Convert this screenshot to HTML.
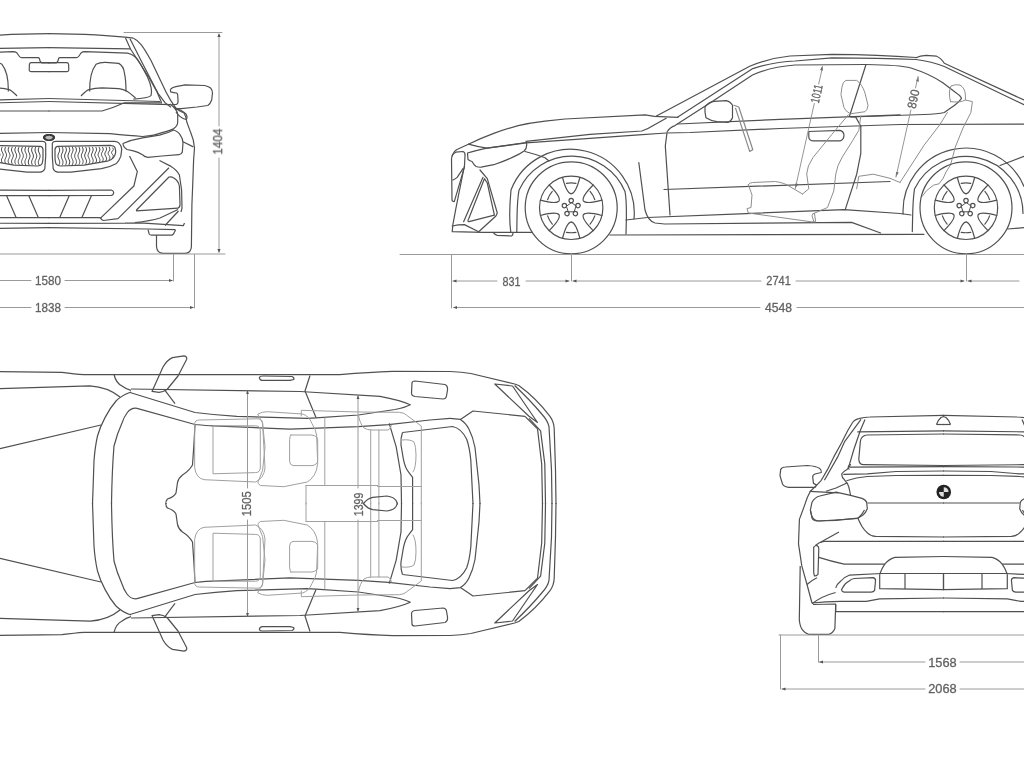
<!DOCTYPE html>
<html><head><meta charset="utf-8"><style>
html,body{margin:0;padding:0;background:#fff;width:1024px;height:768px;overflow:hidden}
svg{display:block}
</style></head><body>
<svg width="1024" height="768" viewBox="0 0 1024 768">
<rect width="1024" height="768" fill="#fff"/>
<g fill="none" stroke="#505050" stroke-width="1.2" stroke-linejoin="round" stroke-linecap="round">
<g id="fronthalf" stroke-linecap="butt">
  <!-- roof and pillar -->
  <path d="M48.5 33.6C85 33.8 115 35.8 133.4 38.2"/>
  <path d="M133.4 38.2C139 40.5 143 46 151 60.5L166 92Q170 100 176.8 109.7"/>
  <path d="M130 38.8L142.8 64L158 93.3L165 102.7L171 107.3"/>
  <path d="M125.5 38L130.5 49L148.7 77L157 92L161.6 102.7"/>
  <!-- windshield -->
  <path d="M48.5 47.6L130.5 48.8"/>
  <path d="M48.5 63L56 63Q58 62.5 58.6 58.5Q59 57.7 60 57.6L76.5 57.6Q78 57.5 79 56L81 53Q82.5 51.7 85 51.7L127.6 53.2Q136 55 140.5 64L147.5 76.9Q153 89 151 95.6Q148 98.2 133.4 99.1"/>
  <!-- rear view mirror -->
  <path d="M48.5 62.6H67Q68.5 62.8 68.6 64.5L68.8 70Q68.8 71.5 67 71.6H48.5"/>
  <!-- seat -->
  <path d="M89.7 91.5C89.5 82 90 72 96 64.3Q100 62.2 105.6 62.4L118.8 63.4Q123.5 66 124.4 72.8C126 80 126 86 126 91.5"/>
  <path d="M81 96C84 93 86 90.5 89 89.6Q95 88 102 87.8L118.8 88.7Q126 90 130 93.4L135.6 98"/>
  <!-- dashboard / hood -->
  <path d="M48.5 98.5L160 101.5"/>
  <path d="M48.5 101.5L171 104.6"/>
  <path d="M48.5 111L102 111Q113 108 124.4 102.8L162 102.8"/>
  <path d="M48.5 132.5L110 133.6Q130 135.5 142.5 136.5Q155 135.5 162 132.6Q170 130.5 173.8 128.6Q177.7 126 177.7 122.1V114.3Q177 109 170 103.9"/>
  <!-- body right -->
  <path d="M173.8 106.5Q178 110.5 184 113Q186 116 186.8 122L190.7 132.6Q194 140 194.5 148L193.6 160L192.7 185L191.9 205L191.4 246"/>
  <path d="M175 108Q182 110 186 114Q188 118 186 119.5Q180 118 176 112"/>
  <path d="M183 141.7L193.3 146.9"/>
  <!-- headlight -->
  <path d="M123 143.5Q132 139.5 142.5 137.8L159.5 135.2Q168 133 173.8 130Q179 132 180.3 135.2Q183 139 183 143L182.3 152Q181.5 154.5 179 154.7L162 156L147.8 157.3Q144 157 142.5 154.7Q138 152 133.4 150.8L127 149.5Q123 147 123 143.5Z"/>
  <!-- kidney grille right -->
  <path d="M52.3 143.2Q53 141.4 55.8 141.4L114.7 141.4Q118 141.8 119 143.2Q121.7 146 121.7 149.3L120.8 156.4Q119 161 116.5 163.4Q110 167 101.5 168.7L70.8 172.2L57.6 172.2Q54 171.5 53.2 168.7L52.3 156.4Z"/>
  <path d="M55 149.3Q55.5 146.5 57.6 146.3L110.3 145.4Q114 145.8 114.7 147.1Q115.8 149.5 115.6 152.8Q115 156 113 158.1Q111 160 108.5 160.8L84 165.1L60.2 166Q57 165.5 56.3 164.3Q55 162 55 156.4Z"/>
  <path d="M58.8 146.9 L59.2 147.9 L59.6 148.9 L59.7 150.0 L59.6 151.0 L59.2 152.0 L58.8 153.0 L58.3 154.0 L58.0 155.1 L57.9 156.1 L58.0 157.1 L58.3 158.1 L58.8 159.1 L59.2 160.2 L59.6 161.2 L59.7 162.2 L59.6 163.2 L59.2 164.2 L58.8 165.2M62.1 146.9 L62.6 147.9 L62.9 148.9 L63.0 150.0 L62.9 151.0 L62.6 152.0 L62.1 153.0 L61.7 154.1 L61.4 155.1 L61.2 156.1 L61.4 157.1 L61.7 158.2 L62.1 159.2 L62.6 160.2 L62.9 161.2 L63.0 162.2 L62.9 163.3 L62.6 164.3 L62.1 165.3M65.5 146.9 L66.0 147.9 L66.3 148.9 L66.4 149.9 L66.3 151.0 L65.9 152.0 L65.5 153.0 L65.0 154.0 L64.7 155.0 L64.6 156.0 L64.7 157.1 L65.0 158.1 L65.5 159.1 L66.0 160.1 L66.3 161.1 L66.4 162.1 L66.3 163.1 L66.0 164.2 L65.5 165.2M68.8 146.9 L69.3 147.9 L69.6 148.9 L69.8 149.9 L69.6 150.9 L69.3 151.9 L68.8 152.9 L68.4 154.0 L68.1 155.0 L67.9 156.0 L68.1 157.0 L68.4 158.0 L68.8 159.0 L69.3 160.0 L69.6 161.0 L69.8 162.0 L69.6 163.0 L69.3 164.0 L68.8 165.0M72.2 146.9 L72.7 148.0 L73.0 149.0 L73.1 150.1 L72.9 151.1 L72.5 152.2 L72.0 153.2 L71.6 154.3 L71.3 155.4 L71.3 156.4 L71.6 157.5 L72.0 158.5 L72.5 159.6 L72.9 160.7 L73.1 161.7 L73.0 162.8 L72.7 163.8 L72.2 164.9M75.5 146.9 L76.0 148.0 L76.4 149.0 L76.4 150.1 L76.3 151.1 L75.9 152.2 L75.4 153.2 L74.9 154.3 L74.7 155.3 L74.7 156.4 L74.9 157.4 L75.4 158.5 L75.9 159.5 L76.3 160.6 L76.4 161.6 L76.4 162.7 L76.0 163.7 L75.5 164.8M78.9 146.9 L79.4 147.9 L79.7 149.0 L79.8 150.0 L79.6 151.1 L79.2 152.1 L78.7 153.2 L78.3 154.2 L78.0 155.2 L78.0 156.3 L78.3 157.3 L78.7 158.4 L79.2 159.4 L79.6 160.4 L79.8 161.5 L79.7 162.5 L79.4 163.6 L78.9 164.6M82.2 146.9 L82.7 147.9 L83.1 149.0 L83.1 150.0 L83.0 151.0 L82.6 152.1 L82.1 153.1 L81.6 154.1 L81.4 155.2 L81.4 156.2 L81.6 157.2 L82.1 158.3 L82.6 159.3 L83.0 160.3 L83.1 161.4 L83.1 162.4 L82.7 163.4 L82.2 164.5M85.6 146.9 L86.1 147.9 L86.4 148.9 L86.5 150.0 L86.3 151.0 L85.9 152.0 L85.4 153.0 L85.0 154.0 L84.7 155.0 L84.7 156.1 L85.0 157.1 L85.4 158.1 L85.9 159.1 L86.3 160.1 L86.5 161.1 L86.4 162.2 L86.1 163.2 L85.6 164.2M88.9 146.9 L89.5 148.0 L89.8 149.0 L89.8 150.1 L89.6 151.1 L89.1 152.2 L88.6 153.2 L88.2 154.3 L88.0 155.3 L88.2 156.4 L88.6 157.5 L89.1 158.5 L89.6 159.6 L89.8 160.6 L89.8 161.7 L89.5 162.7 L88.9 163.8M92.3 146.9 L92.8 147.9 L93.1 149.0 L93.2 150.0 L92.9 151.0 L92.5 152.0 L92.0 153.1 L91.6 154.1 L91.4 155.1 L91.6 156.2 L92.0 157.2 L92.5 158.2 L92.9 159.2 L93.2 160.3 L93.1 161.3 L92.8 162.3 L92.3 163.4M95.6 146.9 L96.2 147.9 L96.5 148.9 L96.5 149.9 L96.3 150.9 L95.8 151.9 L95.3 152.9 L94.9 153.9 L94.7 154.9 L94.9 155.9 L95.3 156.9 L95.8 157.9 L96.3 158.9 L96.5 159.9 L96.5 160.9 L96.2 161.9 L95.6 162.9M99.0 146.9 L99.5 147.9 L99.9 149.0 L99.9 150.0 L99.5 151.1 L99.0 152.1 L98.5 153.2 L98.1 154.2 L98.1 155.2 L98.5 156.3 L99.0 157.3 L99.5 158.4 L99.9 159.4 L99.9 160.4 L99.5 161.5 L99.0 162.5M102.3 146.9 L102.9 148.0 L103.2 149.0 L103.2 150.1 L102.7 151.2 L102.1 152.2 L101.6 153.3 L101.4 154.3 L101.6 155.4 L102.1 156.5 L102.7 157.5 L103.2 158.6 L103.2 159.7 L102.9 160.7 L102.3 161.8M105.7 146.9 L106.3 147.9 L106.6 148.9 L106.5 149.9 L106.1 150.9 L105.5 151.9 L105.0 152.9 L104.8 153.9 L105.0 154.9 L105.5 155.9 L106.1 156.9 L106.5 157.9 L106.6 158.9 L106.3 159.9 L105.7 160.9M109.0 146.9 L109.7 148.0 L109.9 149.1 L109.7 150.1 L109.0 151.2 L108.4 152.3 L108.1 153.4 L108.4 154.5 L109.0 155.5 L109.7 156.6 L109.9 157.7 L109.7 158.8 L109.0 159.9M112.4 147.6 L113.1 148.6 L113.3 149.6 L112.7 150.7 L111.9 151.7 L111.5 152.7 L111.9 153.7 L112.7 154.7 L113.3 155.7 L113.1 156.8 L112.4 157.8" stroke="#484848" stroke-width="1"/>
  <!-- bmw logo -->
  <ellipse cx="49" cy="137.5" rx="6" ry="3.4" fill="#3a3a3a" stroke="none"/><ellipse cx="49" cy="137.6" rx="3.6" ry="1.8" fill="#bbb" stroke="none"/>
  <!-- lower intake / bumper -->
  <path d="M129.5 156L137.3 171.6L133.9 186L100 218.6"/>
  <path d="M48.5 190.3L111.2 190Q113.5 190.5 113.7 192.5Q113.5 195.3 111 195.5L48.5 195.7"/>
  <path d="M48.5 217.6H100.5M69.2 195.7L59.7 217.6M91.4 195.7L81.9 217.6"/>
  <path d="M100.5 217.6Q101 220 103.4 220.5L118 218.6L169 167.8"/>
  <path d="M159.5 160.5L171 166.4Q177 170 179.4 175L181.6 190L182 208.2L181 212"/>
  <path d="M136.5 210L169 177Q171.5 176.5 174.2 178.2Q178.5 181 179.4 186L180 204.3Q180 207.5 178 208.2L136.5 210.8Z"/>
  <path d="M135 222.5Q150 221 160 218L178 209.5M165 225.5L178.5 211"/>
  <path d="M48.5 223.4L125 223.2Q135 222.8 140 222.8L183.3 225.7L184.5 223"/>
  <path d="M48.5 227.7L148 229L175.5 229.7"/>
  <path d="M148 229.7L149.2 234Q150 235.1 151.5 235.1H172Q173.5 234.5 174 233L175.5 229.9"/>
  <!-- tire -->
  <path d="M156.5 235V246.5Q157 253.3 163.3 253.3H185Q191.2 253.3 191.5 246"/>
  <!-- side mirror -->
  <path d="M170.3 89.5Q172 87.5 175.8 86.7L185.2 84.8L204.7 85.5Q209 86.5 210.9 88.3Q212.5 90.5 212.5 93L211.7 100Q210.5 103.5 207.8 105.5L196.9 107L181.3 108.6L175 108.6"/>
  <path d="M170.3 89.5L170.7 91.8Q174 92.5 176.6 93Q177.8 94 177.7 95.3L178.1 101.6Q177.8 103.8 176.6 104.3L171.5 104.5"/>
</g>
<use href="#fronthalf" transform="translate(98,0) scale(-1,1)"/>

<defs><g id="wheel">
<circle r="46"/>
<circle r="31.7"/>
<path d="M-8.7 -30.5C-5.7 -18.8 -3.1 -14.4 0.0 -14.0C3.1 -14.4 5.7 -18.8 8.7 -30.5 M-4.8 -24.5A25.0 25.0 0 0 1 4.8 -24.5 M22.0 -22.8C13.5 -14.3 10.9 -9.8 12.1 -7.0C14.0 -4.5 19.1 -4.5 30.8 -7.7 M18.9 -16.4A25.0 25.0 0 0 1 23.6 -8.1 M30.8 7.7C19.1 4.5 14.0 4.5 12.1 7.0C10.9 9.8 13.5 14.3 22.0 22.8 M23.6 8.1A25.0 25.0 0 0 1 18.9 16.4 M8.7 30.5C5.7 18.8 3.1 14.4 0.0 14.0C-3.1 14.4 -5.7 18.8 -8.7 30.5 M4.8 24.5A25.0 25.0 0 0 1 -4.8 24.5 M-22.0 22.8C-13.5 14.3 -10.9 9.8 -12.1 7.0C-14.0 4.5 -19.1 4.5 -30.8 7.7 M-18.9 16.4A25.0 25.0 0 0 1 -23.6 8.1 M-30.8 -7.7C-19.1 -4.5 -14.0 -4.5 -12.1 -7.0C-10.9 -9.8 -13.5 -14.3 -22.0 -22.8 M-23.6 -8.1A25.0 25.0 0 0 1 -18.9 -16.4"/>
<circle cx="0.0" cy="-7.2" r="2.2"/><circle cx="-6.8" cy="-2.2" r="2.2"/><circle cx="-4.2" cy="5.8" r="2.2"/><circle cx="4.2" cy="5.8" r="2.2"/><circle cx="6.8" cy="-2.2" r="2.2"/>
<path d="M0.0 -5.0 L-4.8 -1.5 L-2.9 4.0 L2.9 4.0 L4.8 -1.5Z" stroke-width="1"/>
</g></defs><g id="side">
  <!-- roof -->
  <path d="M656 116.3L749.7 66.3Q770 58 790 56L832 54.3Q880 54.6 916 57.5"/>
  <path d="M916 57.8Q920 55.5 926 55.4L936.5 56.2Q941 58 944.3 63.3L1024 100"/>
  <path d="M677.8 117L752.8 68.6Q775 61.5 795 61L832 57.8Q880 58 916 59.5Q932 61.5 944.3 66.5L1024 104.7"/>
  <!-- window outline -->
  <path d="M667 132Q670 127 675 125.6L713.8 100.6L752.5 75Q770 67 795 65L866 64.5Q900 65 911 68Q930 74 942.8 82.8L955.3 92.2Q961 96 961.5 98.4Q959 102 955.3 104.7L944.3 112.5Q938 114 924 114.5L851 117"/>
  <path d="M677.8 124L780 119.4L900 114.8"/>
  <path d="M866 64.5L849.4 116.5"/>
  <!-- belt / hood -->
  <path d="M452 156Q454 151 457 149.5L468.4 144.2Q480 138.5 493.8 133.4Q506 128.8 518.2 125.6Q530 123 545 121.2L565 119L645 114.8L654.5 116.3L678 117.3"/>
  <path d="M468.4 144.2Q478 147 487 148.1L526 142.9L590 138.3L638.8 134.9L666.2 133L690 132.5L780 128.5L900 124.5L1024 124.2"/>
  <path d="M526 141.4L590 134.4L641.8 131Q648 129 655 124.5L666.2 118.3"/>
  <!-- headlight -->
  <path d="M467.5 153L468 159.5Q470 161 472 161.5Q474 165 476 166.5Q479 167.5 481 167.2L493.8 164.7Q505 161 513.4 156.9Q520 154 524.1 151Q527.5 148 526.5 142.5L487 148.1Q475 150.5 467.5 153Z"/>
  <!-- front grille side -->
  <path d="M451.5 158.7Q452 154 455.8 152.2L463 151.5Q465.5 152.5 465 155.8L464.4 167.2L454.3 201.6Q452 201.5 452 200L451.5 158.7Z"/>
  <path d="M452.9 180Q456 178.5 457.2 177.3L463 168.7"/>
  <path d="M464.4 166L455.8 208.8L452.9 224.6L452.2 231.7L483 232.3L532 232.3"/>
  <path d="M452.2 226Q458 224.6 464.4 224.6L478.7 231.7L495.9 216L497.3 213L487.3 178.7L480 170"/>
  <path d="M484.4 178.7L468.7 218.8Q467 221.5 469 221.7L494.4 215.2L487.3 183Z"/>
  <path d="M483 177.3L463.6 221.7"/>
  <path d="M493 232.4Q495 235 497.3 235.3L511.6 236Q513 235 513 233.2"/>
  <path d="M525 151.5Q535 154 545 157.8L549 161"/>
  <!-- front arches -->
  <path d="M510.8 232.3C509.3 222 509.3 208 511 190A63.8 63.8 0 0 1 634 219"/>
  <path d="M516.8 232.3L517 218C517.2 206 517.8 197 519 190.2A57.8 57.8 0 0 1 625 191.5C626.3 198 626.5 208 626.4 218L626 234"/>
  <!-- door & sills -->
  <path d="M666.9 133.6L665.3 146L670 215"/>
  <path d="M638.8 162.5L645 210Q648 221 655 223L664.5 224L851.6 222.4L880.6 233"/>
  <path d="M610 235L924 234.3"/>
  <path d="M626 220L647.5 217.5L740 213.8L844 209.6L900 213.5L911 215"/>
  <path d="M664 189.5L890 181.5"/>
  <path d="M860.8 126.3V153.3L856.7 174.2L845.2 209.6"/>
  <path d="M849.4 116.5Q853 116.5 855.6 116.9L860.8 126.3"/>
  <!-- door handle -->
  <path d="M808.8 131.5L840 130.4Q844 131.5 844 135.6Q843.5 140 840 140.8L813 140.8Q808.8 140.5 808.8 136.7Z"/>
  <!-- mirror -->
  <path d="M705 107Q708 102.5 713.8 101.4L726.3 100.6Q731 102 732.5 105.3V117.8Q731 121.5 727.8 122.5L716.9 121.7Q710 120.5 706 117.8Q704.5 112 705 107Z"/>
  <path d="M734 105.3L738.8 107L752.8 149.8L749.7 151.4L735.6 108.4" stroke="#888"/>
  <!-- rear arches -->
  <path d="M903.1 214A63 63 0 0 1 1024 186.4"/>
  <path d="M912.3 231.6L912.6 218C912.8 206 913.3 197 914.5 189A57 57 0 0 1 1023 213.4"/>
  <path d="M1000 165.5L1024 156.4"/>
  <path d="M1007.8 229L1024 227.7"/>
</g>
<g stroke="#8e8e8e" stroke-width="1" id="sideseats">
  <path d="M842 86.7Q843 81 846 80.4L856.7 80.4Q862 84 865 93L868 105.4Q867.5 110 865 111.7L850.4 113.8Q845 111 844 107.5L841 95Z"/>
  <path d="M848.3 114.8L831.7 134.6L813 157.5Q807 166 806.7 174L808.8 188.8L802.5 194"/>
  <path d="M860.8 115.8L858.8 130.4L852.5 140.8L842 157.5Q837 166 835.8 174L833.8 190.8L827.5 207.5L813 213.8"/>
  <path d="M748.3 184.6Q750 182.5 752.5 182.5L775.4 181.5Q785 183 790 186.7L802.5 194"/>
  <path d="M748.3 184.6L752 195L751 207.5L747 208.6L748.3 213L811.3 221.8L815.7 221.8L814.5 213.5"/>
  <path d="M813 213.8L812 215.8L814 222"/>
  <path d="M856.7 188.8L858.8 176.3L873.3 174.2L890 178.3L900 182.5"/>
  <path d="M950.5 101.6Q948 92 951 86Q955 84 960 85Q965 88 965.4 95L965.4 100Q960 103 950.5 101.6Z"/>
  <path d="M965.4 100L972.4 101.6L970.9 112.5L963 128L955.3 147L950.5 165L946 172L943.3 178L939 183.8L933.4 185.2L926.4 190.8L922.2 196.4"/>
  <path d="M947.4 112.5L939.6 125L924 145.3L900 182.5"/>
</g>
<use href="#wheel" x="571.2" y="207.8"/>
<use href="#wheel" x="966" y="207.8"/>
<g fill="#555" stroke="none"><path d="M822.5 65.5l-2.3 4.6 2.7 0.6z"/><path d="M795.2 188.5l0.2 -5.1 2.7 0.6z"/><path d="M918.3 76.5l-2.2 4.6 2.7 0.6z"/><path d="M895.8 177l0.2 -5.1 2.7 0.6z"/></g>
<g stroke="#8a8a8a" stroke-width="0.9">
  <path d="M822.3 68L818.7 84M814.3 103.5L795.2 188.8"/>
  <path d="M918 76.6L915.5 88M910.9 110L896 177"/>
</g>

<g id="tophalf" stroke-linecap="butt">
  <!-- outer outline -->
  <path d="M0 371.7L62 372.3Q75 374 84 374.6L340 374.6Q370 372 392.5 371.3L450 371.5Q462 372 470.8 373.5L514.6 384L518.8 385.5Q536 398 550 416.3Q554 422 554.2 428.8L555.5 470L556 504"/>
  <path d="M514.6 385.5Q530 400 541.7 414Q548 421 549 426.7L551.5 470L552 504"/>
  <path d="M494.8 384L512.5 386L537.5 422.5L529 416.3L498 387Z"/>
  <path d="M525 416.3L537.5 428.8L541.7 464L542.5 504"/>
  <path d="M529 418.3L540.6 430.8L544.8 464L545.5 504"/>
  <!-- trunk / rear window -->
  <path d="M460.4 419.4L473 411L525 416.3"/>
  <path d="M450 418.3L460.4 419.4Q466 423 468.8 428.8Q473 437 475 447.5L479 485L480 504"/>
  <path d="M402.5 432.5L452.5 426.5Q461 428 466.7 439.2Q469.5 447 470.8 460L473 504"/>
  <path d="M402.5 432.5Q400.5 438 401 445L403.3 458.6Q405 468 409 472.6L412.6 477.3V504"/>
  <path d="M389.2 423.4L396.2 446.9L401 475L401.5 504"/>
  <!-- roof rail spear -->
  <path d="M131 389L300 391.5L380 396.3Q400 400 410.3 404.7Q405 407.5 395 409.5L358.4 415L316 417.8L307.2 418.3L236.9 416.4Q215 415 195 412.5L130 392.5"/>
  <path d="M137 408.3L195 424.5Q210 426 213.4 425.8L290 429.2L358.4 426.7L388.5 424.6L430 420L450 418.3"/>
  <path d="M114 374.5Q116 383 122 386Q126 389 131 390.4"/>
  <path d="M0 388.6L90 385.8Q108 387 120 397"/>
  <path d="M0 448.6L101 425"/>
  <!-- windshield -->
  <path d="M131 392Q122 395 116 401Q110 408 105 417.6Q100 427 97.5 436Q95 447 94 461L92.5 504"/>
  <path d="M137 408.3Q131 407.5 127 413Q124 417 122 423Q117 434 114 446Q112 470 111.5 504"/>
  <path d="M195 424.5Q194 445 192.5 465Q189 471 182.5 475Q178.5 478 177.5 482.5L176 493Q174 497 167.5 499Q165.5 501 166 504"/>
  <!-- mirror -->
  <path d="M152 391.4L163 367Q167 360 172.5 357.6L184 355.8Q187.5 356.5 186.6 359.5L178 376L167 389.5Q163 392 159 392.3Z"/>
  <path d="M165 390.4L175 403.6"/>
  <!-- b-pillar, door handle -->
  <path d="M310 375.5L305 391L316 417.5"/>
  <path d="M259.4 377.2Q260 376 263 376L292 376.5Q294.5 377.5 293.8 379.5L290 380.4L262 380.4Q259.4 380 259.4 377.2Z"/>
  <!-- tail light -->
  <path d="M412 383Q412 381 415 381L445 384.5Q448 386 447.5 390L446.5 396Q446 399 443 399L415 396.5Q411.5 396 411.5 393Z"/>
</g>
<g id="topseats" stroke="#a0a0a0" stroke-width="1">
  <path d="M194.7 423.4Q195 420 199.4 420L258 418.8Q262.6 419 262.6 423.4L265 468Q264 478 255.6 482L204 479.7Q196 478 194.7 468Z"/>
  <path d="M213.4 425.8L255.6 425.8Q260.3 426 260.3 430.5V468Q260 472.5 255.6 472.6L213.4 473.8Z"/>
  <path d="M258 414Q262 411.7 267.3 411.7L302.5 414Q309 416 311.9 423.4Q316 430 316.6 435L317.7 463.3Q317 471 314.2 475Q311 480 307.2 482L283.8 486.7L260.3 485.5Q257 483 258 482L262.6 470.3L265 446.9L262.6 423.4Z"/>
  <path d="M290.8 435H311.9Q317.7 436 317.7 439.8V461Q317 465 311.9 465.6H293Q289.6 465 289.6 461V439.8Q290 435.5 290.8 435Z"/>
  <path d="M301.3 416V410.3L358.4 412L399.4 412.3Q405 413 406.3 415L421.3 426V504M324.8 418V485.5M370.7 430V504M378.9 430V504M306 485.5H377.5M377.5 486.5H421M306 485.5V504"/>
  <path d="M358.4 415Q360 424 364 428Q367 430 372 430L388 430Q391 429 391.5 425"/>
  <path d="M402 440Q410 439 414 442Q416 446 416 455Q416 468 413 472"/>
</g>
<g id="topdrop">
<path d="M363.4 503.5Q368 498 372.8 497.3L386.9 496Q394 497 396.2 500.8Q397.4 503.5 397.4 504"/>
</g>
<use href="#tophalf" transform="translate(0,1007) scale(1,-1)"/>
<use href="#topseats" transform="translate(0,1007) scale(1,-1)"/>
<use href="#topdrop" transform="translate(0,1007) scale(1,-1)"/>

<defs><clipPath id="rclip"><rect x="0" y="0" width="1024" height="768"/></clipPath></defs>
<g id="rearhalf" stroke-linecap="butt">
  <!-- roof and pillars -->
  <path d="M858.8 418.6Q864 417 869.8 417L944 415.3"/>
  <path d="M858.8 418.6Q854 420 852.6 422.5L847.9 430.3L841.6 442.8L833.8 456.9L827.6 469.4L821.3 480.3Q815 487 810.4 491.3L807.3 497.5L804 506.9L799.4 519.4L798.5 543.9L801.8 565.9L807 584.5L812 603"/>
  <path d="M861 419.4L844.8 441.3L837.7 456.9L824.4 480.3"/>
  <path d="M865 419.4L860.4 430.3L854 449L849.4 464.7Q847 468 849.4 469.4"/>
  <path d="M857.3 431.9L944 430.8"/>
  <path d="M866.6 435L944 434"/>
  <path d="M866.6 435Q861 436 860.4 441.3L858.8 459Q859 464.7 863.5 464.7L944 465.5"/>
  <path d="M936.5 424.5Q938 420 941 417.5Q943.5 416.5 944 416.5"/>
  <path d="M936.5 424.5H944"/>
  <!-- trunk -->
  <path d="M849.5 467.1L944 466.6"/>
  <path d="M843.3 474.4Q855 474 867.3 473.9L896 471.5L944 471"/>
  <path d="M846.4 480.7Q856 477.5 867.3 476.5L896 475.5L944 475.3"/>
  <path d="M850.6 464Q850 467 847 469.5Q842 472.5 841.7 474.4Q842 478 844.3 479.6L847.5 483.8Q849 487 849.5 490L850.6 495.3"/>
  <path d="M857.9 518.2Q860 523 862 526.5Q864.5 530.5 867.3 532.8Q870.5 536 875.6 536.4L944 537"/>
  <path d="M826 491.3L836 488L847.5 482.8"/>
  <path d="M809.6 491.3L838.5 492.8"/>
  <path d="M867.4 503H944"/>
  <!-- tail light -->
  <path d="M812 502.2Q815 497 819.8 496L836 492.1L850.6 495.3L862 498.4Q866 500 866.7 502.5L867.3 508.8Q866 512.5 863 515L857.9 518.2L836 520.3L816.6 521Q812.5 520 812 517.8L810.4 510Z"/>
  <path d="M810.3 510L812 516.8Q814 520.5 818.8 521L857.7 518.5Q862 515 864.5 510"/>
    <!-- mirror -->
  <path d="M780.7 469.4Q782 467 785.4 467L807.3 465.5Q816 466 819.8 468.6Q822 470.5 821.3 472.5L815 474Q812.5 475 812.7 477.2L813.5 483.4L816.6 485L815 487.3L788.5 487.3Q783 486.5 782.3 483.4L780 475.6Z"/>
  <!-- lower body -->
  <path d="M815.4 545.5Q819 542 823.9 541.3L944 541.3"/>
  <path d="M820.5 542.2L839 532"/>
  <path d="M813.7 547.2Q815 545.5 817 545.5Q819 546.5 818.8 549L818 574.3Q816.5 576 814.5 576L813.7 572.6Z"/>
  <path d="M818.8 557.4Q830 561 844.2 564.2L884.8 564.2"/>
  <path d="M807 584.5Q812 580 817 577.7"/>
  <path d="M835.7 587.9Q837 584 840.8 581Q844 577 849.2 575.2L881.4 573.5L944 573.5"/>
  <path d="M842.5 587.9Q845 583 849.2 581Q851 579 854.3 578.5L873 577.7Q876 578.5 875.5 581L874.6 590.4Q873.5 592 871.2 592.1H844.2Q841.5 591.5 841.6 589.6Z"/>
  <path d="M812 603.8Q822 596 835.6 592.5"/>
  <path d="M812 603Q825 601.5 840.8 601.4L866.2 601.4L879.7 598.9L944 598"/>
  <path d="M813 604.5L835.7 604V611.6H944"/>
  <!-- diffuser -->
  <path d="M879.7 574.3Q882 568 884.8 564.2Q889 559 895 557.4L944 556.5"/>
  <path d="M879.7 574.3V588.7L944 589.6"/>
  <path d="M905 574V589M943.5 574V590"/>
  <!-- tire -->
  <path d="M800.2 565.9L799.3 620Q800 627 802.7 630.2Q805 633.5 808.6 634.4H828.9Q833 633 834.9 628.5L835.7 604.8"/>
</g>
<use href="#rearhalf" transform="translate(1887,0) scale(-1,1)"/>
<g id="rearlogo">
  <circle cx="943.75" cy="492" r="7.3" fill="#222" stroke="none"/>
  <path d="M943.75 492V487.2A4.8 4.8 0 0 1 948.55 492ZM943.75 492V496.8A4.8 4.8 0 0 1 938.95 492Z" fill="#ddd" stroke="none"/>
</g>

<g id="dims" stroke="#9a9a9a" stroke-width="1" fill="none">
  <!-- front view dims -->
  <path d="M0 254H225"/>
  <path d="M124 32.5H222"/>
  <path d="M219 35V126M219 158V252"/>
  <path d="M0 280.5H31M65 280.5H172"/>
  <path d="M173.5 254.5V281"/>
  <path d="M0 307.5H31M65 307.5H193"/>
  <path d="M194.5 254.5V308"/>
  <!-- side view dims -->
  <path d="M400 254.5H1024"/>
  <path d="M451.5 255V308"/>
  <path d="M571.5 254V281"/>
  <path d="M966.5 254V281"/>
  <path d="M453 281H497M526 281H569M573 281H761M796 281H964M968 281H1019"/>
  <path d="M454 307.5H760M797 307.5H1024"/>
  <!-- top view dims -->
  <path d="M247.5 391V488M247.5 520V616"/>
  <path d="M358 396V488M358 520V611"/>
  <!-- rear view dims -->
  <path d="M779 635H1024"/>
  <path d="M780.5 635V689"/>
  <path d="M818.5 635V662"/>
  <path d="M819 662H925M960 662H1024"/>
  <path d="M782 689H925M960 689H1024"/>
</g>
<g id="arrows" fill="#555" stroke="none">
  <path d="M219 33l-1.6 4h3.2z"/>
  <path d="M219 253l-1.6 -4h3.2z"/>
  <path d="M173 280.5l-4 -1.4v2.8z"/>
  <path d="M194 307.5l-4 -1.4v2.8z"/>
  <path d="M452.5 281l4 -1.4v2.8z"/>
  <path d="M569.5 281l-4 -1.4v2.8z"/>
  <path d="M572.5 281l4 -1.4v2.8z"/>
  <path d="M964.5 281l-4 -1.4v2.8z"/>
  <path d="M967.5 281l4 -1.4v2.8z"/>
  <path d="M453 307.5l4 -1.4v2.8z"/>
  <path d="M247.5 390l-1.4 4h2.8z"/>
  <path d="M247.5 617l-1.4 -4h2.8z"/>
  <path d="M358 395l-1.4 4h2.8z"/>
  <path d="M358 612l-1.4 -4h2.8z"/>
  <path d="M819 662l4 -1.4v2.8z"/>
  <path d="M781.5 689l4 -1.4v2.8z"/>
</g>
<g id="labels" stroke="#666" stroke-width="0.3" fill="#5e5e5e" font-family="Liberation Sans, sans-serif" font-size="12.4" text-anchor="middle" style="filter:grayscale(1)">
  <text transform="translate(48.1,280.3)" y="4.45" textLength="26" lengthAdjust="spacingAndGlyphs">1580</text>
  <text transform="translate(48.1,307.5)" y="4.45" textLength="26" lengthAdjust="spacingAndGlyphs">1838</text>
  <text transform="translate(218.1,141.6) rotate(-90)" y="4.45" textLength="26" lengthAdjust="spacingAndGlyphs">1404</text>
  <text transform="translate(511.5,281.3)" y="4.45" textLength="18" lengthAdjust="spacingAndGlyphs">831</text>
  <text transform="translate(778.6,281)" y="4.45" textLength="24.5" lengthAdjust="spacingAndGlyphs">2741</text>
  <text transform="translate(778.5,307.6)" y="4.45" textLength="27" lengthAdjust="spacingAndGlyphs">4548</text>
  <text transform="translate(246.9,503.8) rotate(-90)" y="4.45" textLength="25" lengthAdjust="spacingAndGlyphs">1505</text>
  <text transform="translate(358.1,504.4) rotate(-90)" y="4.45" textLength="23.5" lengthAdjust="spacingAndGlyphs">1399</text>
  <text transform="translate(942.4,662.4)" y="4.45" textLength="28.5" lengthAdjust="spacingAndGlyphs">1568</text>
  <text transform="translate(942.4,688.7)" y="4.45" textLength="28.5" lengthAdjust="spacingAndGlyphs">2068</text>
  <text transform="translate(816.5,93.7) rotate(-77.4)" y="4.45" textLength="18.5" lengthAdjust="spacingAndGlyphs">1011</text>
  <text transform="translate(913.2,99) rotate(-77.6)" y="4.45" textLength="19" lengthAdjust="spacingAndGlyphs">890</text>
</g>


</g>
</svg>
</body></html>
